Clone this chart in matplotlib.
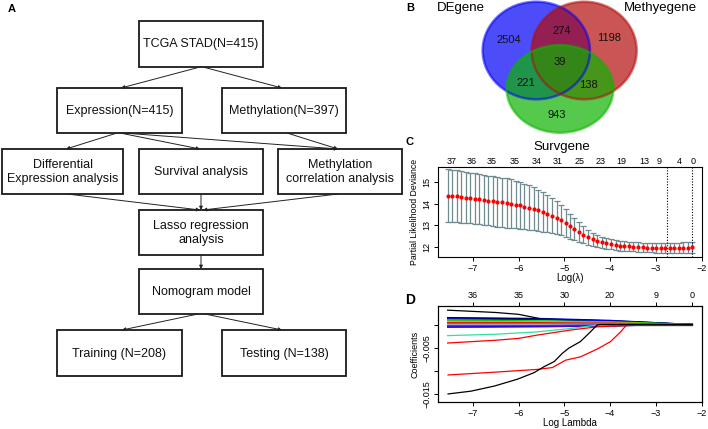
import numpy as np
import matplotlib
matplotlib.use("Agg")
import matplotlib.pyplot as plt
from matplotlib.patches import Rectangle, Ellipse
from matplotlib.transforms import blended_transform_factory

plt.rcParams['font.family'] = ['Liberation Sans', 'DejaVu Sans']

# ---------------- Panel A: flowchart content ----------------
box_labels = ["TCGA STAD(N=415)", "Expression(N=415)", "Methylation(N=397)",
              "Differential\nExpression analysis", "Survival analysis",
              "Methylation\ncorrelation analysis", "Lasso regression\nanalysis",
              "Nomogram model", "Training (N=208)", "Testing (N=138)"]
flow_edges = [(0, 1), (0, 2), (1, 3), (1, 4), (1, 5), (2, 5),
              (3, 6), (4, 6), (5, 6), (6, 7), (7, 8), (7, 9)]

# ---------------- Panel B: Venn content ----------------
venn_sets = ["DEgene", "Methyegene", "Survgene"]
venn_counts = [2504, 274, 1198, 39, 221, 138, 943]   # DE, DE&Me, Me, all, DE&Su, Me&Su, Su

# ---------------- Panel C: CV curve ----------------
cv_log_lambda = [-7.55, -7.45, -7.35, -7.25, -7.15, -7.05, -6.96, -6.86, -6.76, -6.66,
                 -6.56, -6.46, -6.36, -6.26, -6.16, -6.06, -5.96, -5.87, -5.77, -5.67,
                 -5.57, -5.47, -5.37, -5.27, -5.17, -5.07, -4.97, -4.88, -4.78, -4.68,
                 -4.58, -4.48, -4.38, -4.28, -4.18, -4.08, -3.98, -3.88, -3.79, -3.69,
                 -3.59, -3.49, -3.39, -3.29, -3.19, -3.09, -2.99, -2.89, -2.80, -2.70,
                 -2.60, -2.50, -2.40, -2.30, -2.20]
cv_mean = [14.38, 14.36, 14.34, 14.32, 14.29, 14.26, 14.24, 14.21, 14.18, 14.15,
           14.12, 14.09, 14.06, 14.03, 14.00, 13.96, 13.92, 13.87, 13.82, 13.76,
           13.69, 13.62, 13.54, 13.45, 13.35, 13.23, 13.10, 12.96, 12.82, 12.68,
           12.55, 12.44, 12.35, 12.27, 12.20, 12.15, 12.11, 12.08, 12.05, 12.03,
           12.01, 12.00, 11.98, 11.97, 11.96, 11.95, 11.94, 11.94, 11.93, 11.93,
           11.94, 11.95, 11.95, 11.96, 11.97]
cv_sd = [1.23, 1.22, 1.21, 1.20, 1.19, 1.18, 1.17, 1.16, 1.16, 1.16,
         1.16, 1.16, 1.15, 1.15, 1.13, 1.11, 1.09, 1.06, 1.03, 1.00,
         0.96, 0.92, 0.87, 0.82, 0.76, 0.70, 0.64, 0.58, 0.52, 0.46,
         0.40, 0.35, 0.31, 0.28, 0.26, 0.25, 0.24, 0.23, 0.23, 0.22,
         0.22, 0.22, 0.22, 0.22, 0.22, 0.22, 0.22, 0.22, 0.22, 0.23,
         0.24, 0.24, 0.25, 0.25, 0.25]
cv_top_labels = ["37", "36", "35", "35", "34", "31", "25", "23", "19", "13", "9", "4", "0"]
cv_top_pos = [-7.46, -7.02, -6.59, -6.08, -5.61, -5.14, -4.67, -4.20, -3.76, -3.25, -2.93, -2.49, -2.18]
lambda_min_log = -2.75
lambda_1se_log = -2.20

# ---------------- Panel D: coefficient paths ----------------
path_lines = [
    ("black",   [-7.55, -6.5, -6.0, -5.44, -5.0, -4.0, -3.0, -2.2],
                [0.0031, 0.0026, 0.0022, 0.0011, 0.0010, 0.0007, 0.0003, 0.0]),
    ("blue",    [-7.55, -5.5, -4.0, -3.0, -2.2], [0.0015, 0.0013, 0.0009, 0.0004, 0.0]),
    ("black",   [-7.55, -5.5, -4.0, -3.0, -2.2], [0.0014, 0.0012, 0.0008, 0.0004, 0.0]),
    ("blue",    [-7.55, -5.5, -4.0, -3.0, -2.2], [0.0012, 0.0011, 0.0008, 0.0003, 0.0]),
    ("#00cd00", [-7.55, -5.5, -4.0, -3.0, -2.2], [0.0009, 0.0008, 0.0006, 0.0003, 0.0]),
    ("#b0c000", [-7.55, -5.5, -4.0, -3.0, -2.2], [0.0007, 0.0006, 0.0005, 0.0002, 0.0]),
    ("red",     [-7.55, -5.5, -4.0, -3.0, -2.2], [0.0004, 0.0004, 0.0003, 0.0001, 0.0]),
    ("#00cd00", [-7.55, -5.5, -4.0, -3.0, -2.2], [0.0002, 0.0002, 0.0002, 0.0001, 0.0]),
    ("black",   [-7.55, -5.5, -4.0, -3.0, -2.2], [0.0000, 0.0000, 0.0000, 0.0000, 0.0]),
    ("blue",    [-7.55, -5.5, -4.0, -3.0, -2.2], [-0.0002, -0.0002, -0.0001, 0.0, 0.0]),
    ("magenta", [-7.55, -5.5, -4.0, -3.0, -2.2], [-0.0003, -0.0003, -0.0002, -0.0001, 0.0]),
    ("blue",    [-7.55, -5.5, -4.0, -3.0, -2.2], [-0.0005, -0.0004, -0.0003, -0.0001, 0.0]),
    ("#5000c0", [-7.55, -5.5, -4.0, -3.0, -2.2], [-0.0006, -0.0005, -0.0003, -0.0001, 0.0]),
    ("#30e0a0", [-7.55, -6.5, -5.6, -5.0, -4.72, -4.35, -3.8, -3.0, -2.2],
                [-0.0024, -0.0021, -0.0016, -0.0010, -0.0007, -0.0002, -0.0001, 0.0, 0.0]),
    ("red",     [-7.55, -6.5, -6.0, -5.6, -5.0, -4.87, -4.28, -3.63, -3.0, -2.2],
                [-0.0040, -0.0034, -0.0030, -0.0023, -0.0014, -0.0012, -0.0005, -0.0002, -0.0001, 0.0]),
    ("red",     [-7.54, -6.53, -5.59, -5.26, -4.97, -4.65, -4.28, -3.99, -3.77, -3.63, -2.2],
                [-0.0109, -0.0103, -0.0097, -0.0093, -0.0077, -0.0070, -0.0053, -0.0037, -0.0016, 0.0, 0.0]),
    ("black",   [-7.54, -7.04, -6.53, -6.02, -5.66, -5.44, -5.22, -5.04, -4.90, -4.65, -4.46, -4.28, -4.20, -2.2],
                [-0.0150, -0.0144, -0.0133, -0.0118, -0.0104, -0.0091, -0.0080, -0.0062, -0.0051, -0.0037, -0.0019, -0.0001, 0.0, 0.0]),
]
path_top_labels = ["36", "35", "30", "20", "9", "0"]
path_top_pos = [-7, -6, -5, -4, -3, -2.2]

# ================= layout =================
W, H = 708, 429
fig = plt.figure(figsize=(W / 100, H / 100), dpi=100)
bg = fig.add_axes([0, 0, 1, 1])
bg.set_xlim(0, W)
bg.set_ylim(H, 0)
bg.axis("off")

# --- Panel A
box_rects = [(139, 21, 263, 67), (57, 88, 182, 133), (222, 88, 346, 133),
             (2, 149, 123, 194), (139, 149, 263, 194), (278, 149, 402, 194),
             (139, 210, 263, 255), (139, 269, 263, 314), (57, 330, 182, 376),
             (222, 330, 346, 376)]
for (x0, y0, x1, y1), lab in zip(box_rects, box_labels):
    bg.add_patch(Rectangle((x0, y0), x1 - x0, y1 - y0, fill=False,
                           edgecolor="#1a1a1a", lw=1.3))
    bg.text((x0 + x1) / 2, (y0 + y1) / 2 + 0.5, lab, ha="center", va="center",
            fontsize=9, linespacing=1.22, color="#111111")

edge_pts = [((200, 67), (121, 88)), ((203, 67), (282, 88)),
            ((117, 133), (66, 149)), ((120, 133), (200, 149)), ((123, 133), (338, 149)),
            ((287, 133), (338, 149)),
            ((67, 194), (200, 210)), ((201, 194), (201, 210)), ((338, 194), (203, 210)),
            ((201, 255), (201, 269)),
            ((198, 314), (122, 330)), ((205, 314), (282, 330))]
for (a, b), e in zip(edge_pts, flow_edges):
    bg.annotate("", xy=b, xytext=a,
                arrowprops=dict(arrowstyle="-|>", lw=0.7, color="#222222",
                                mutation_scale=5, shrinkA=0, shrinkB=0))

bg.text(12, 9, "A", fontsize=8, fontweight="bold", ha="center", va="center")

# --- Panel B: Venn
venn_shapes = [((536.3, 50.5), 107.3, 97.6, (0.0, 0.0, 0.97)),
               ((584.2, 50.5), 105.0, 97.6, (0.70, 0.05, 0.05)),
               ((560.0, 88.9), 106.7, 87.7, (0.05, 0.70, 0.0))]
for (c, w, h, col) in venn_shapes:
    bg.add_patch(Ellipse(c, w, h, facecolor=col, alpha=0.7, edgecolor="none"))
for (c, w, h, col) in venn_shapes:
    bg.add_patch(Ellipse(c, w, h, facecolor="none", edgecolor=col, alpha=0.55, lw=1.8))

venn_name_pos = [(461, 8), (660, 8), (562, 147)]
for (x, y), name in zip(venn_name_pos, venn_sets):
    bg.text(x, y, name, fontsize=9.5, ha="center", va="center")
venn_num_pos = [(509, 40), (562, 31), (609, 38), (560, 62), (526, 83), (588, 85), (557, 115)]
for (x, y), n in zip(venn_num_pos, venn_counts):
    bg.text(x, y, str(n), fontsize=8, ha="center", va="center", color="#111111")
bg.text(410, 8, "B", fontsize=8, fontweight="bold", ha="center", va="center")
bg.text(410, 142, "C", fontsize=8, fontweight="bold", ha="center", va="center")
bg.text(410, 300, "D", fontsize=10, fontweight="bold", ha="center", va="center")

# --- Panel C
def px_axes(x0, y0, x1, y1):
    return fig.add_axes([x0 / W, 1 - y1 / H, (x1 - x0) / W, (y1 - y0) / H])

tick_fs = 6.5
axc = px_axes(438, 167, 702, 257)
mean = np.array(cv_mean)
sd = np.array(cv_sd)
axc.errorbar(cv_log_lambda, mean, yerr=sd, fmt="none", ecolor="#6f8a90",
             elinewidth=0.9, capsize=2.0, capthick=0.9)
axc.plot(cv_log_lambda, mean, "o", color="red", ms=3.0, mew=0, zorder=5)
axc.axvline(lambda_min_log, color="black", ls=(0, (1, 1.5)), lw=0.8)
axc.axvline(lambda_1se_log, color="black", ls=(0, (1, 1.5)), lw=0.8)
axc.set_xlim(-7.76, -1.99)
axc.set_ylim(11.52, 15.71)
axc.set_xticks([-7, -6, -5, -4, -3, -2])
axc.set_xticklabels(["\u22127", "\u22126", "\u22125", "\u22124", "\u22123", "\u22122"])
axc.set_yticks([12, 13, 14, 15])
axc.set_yticklabels(["12", "13", "14", "15"], rotation=90, va="center")
axc.tick_params(labelsize=tick_fs, length=3, width=0.7, pad=2)
axc.set_xlabel("Log(\u03bb)", fontsize=7, labelpad=0)
axc.set_ylabel("Partial Likelihood Deviance", fontsize=6.3, labelpad=2)
for s in axc.spines.values():
    s.set_linewidth(0.8)
tr = blended_transform_factory(axc.transData, axc.transAxes)
for p, lab in zip(cv_top_pos, cv_top_labels):
    axc.text(p, 1.01, lab, transform=tr, ha="center", va="bottom", fontsize=tick_fs)

# --- Panel D
axd = px_axes(438, 306, 702, 402)
for col, xs, ys in path_lines:
    axd.plot(xs, ys, color=col, lw=0.9)
axd.set_xlim(-7.76, -1.99)
axd.set_ylim(-0.01674, 0.0040)
axd.set_xticks([-7, -6, -5, -4, -3, -2])
axd.set_xticklabels(["\u22127", "\u22126", "\u22125", "\u22124", "\u22123", "\u22122"])
axd.set_yticks([0.0, -0.005, -0.010, -0.015])
axd.set_yticklabels(["", "\u22120.005", "", "\u22120.015"], rotation=90, va="center")
axd.tick_params(labelsize=tick_fs, length=3, width=0.7, pad=2)
axd.set_xlabel("Log Lambda", fontsize=7, labelpad=0)
axd.set_ylabel("Coefficients", fontsize=6.5, labelpad=2)
for s in axd.spines.values():
    s.set_linewidth(0.8)
axt = axd.twiny()
axt.set_xlim(axd.get_xlim())
axt.set_xticks(path_top_pos)
axt.set_xticklabels(path_top_labels)
axt.tick_params(labelsize=tick_fs, length=3, width=0.7, pad=1)

fig.savefig("out.png", dpi=100)
